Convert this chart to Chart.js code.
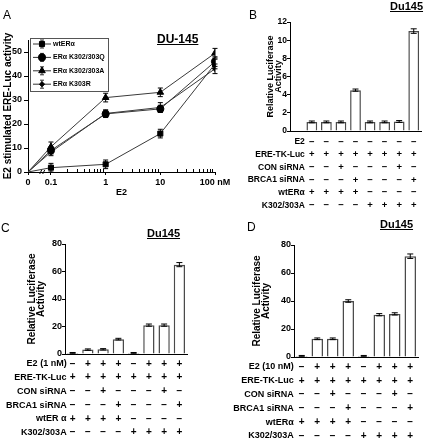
<!DOCTYPE html>
<html>
<head>
<meta charset="utf-8">
<title>ERα K302/303 mutants and BRCA1 siRNA in Du145 cells</title>
<script src="https://cdn.jsdelivr.net/npm/chart.js@4.4.1/dist/chart.umd.min.js"></script>
<style>
  body { margin: 0; background: #fff; }
  #figure { position: relative; width: 427px; height: 441px; overflow: hidden; background: #fff;
            font-family: "Liberation Sans", Arial, sans-serif; color: #000; }
  #figure canvas { position: absolute; }
  .letter { position: absolute; font-size: 12px; line-height: 12px; }
  .cell { position: absolute; font-weight: bold; text-decoration: underline; line-height: 1; }
</style>
</head>
<body>
<div id="figure">
  <canvas id="chartA" width="240" height="215" style="left:0;top:0"></canvas>
  <canvas id="chartB" width="214" height="215" style="left:213px;top:0"></canvas>
  <canvas id="chartC" width="213" height="226" style="left:0;top:215px"></canvas>
  <canvas id="chartD" width="214" height="226" style="left:213px;top:215px"></canvas>

  <div class="letter" style="left:3px;top:9px">A</div>
  <div class="cell" style="left:157px;top:33px;font-size:12px">DU-145</div>
  <div class="letter" style="left:249px;top:9px">B</div>
  <div class="cell" style="left:390px;top:1px;font-size:11px">Du145</div>
  <div class="letter" style="left:1px;top:222px">C</div>
  <div class="cell" style="left:147px;top:228px;font-size:11px">Du145</div>
  <div class="letter" style="left:247px;top:221px">D</div>
  <div class="cell" style="left:380px;top:219px;font-size:11px">Du145</div>
</div>

<script>
// ---------- panel A: dose response ----------
const doses = [0, 0.1, 1, 10, 100];
const doseLabels = ['0', '0.1', '1', '10', '100 nM'];
const seriesNames = ['wtERα', 'ERα K302/303Q', 'ERα K302/303A', 'ERα K303R'];
const wtER = [0, 1.8, 3.2, 16, 45];
const k302Q = [0, 9, 24.2, 26.3, 46];
const k302A = [0, 10.5, 31, 33.2, 49.5];
const k303R = [0, 8.3, 24.4, 26.9, 43];
const wtErrA = [0, 1.8, 1.8, 1.8, 2];
const qErrA = [0, 1.5, 1.5, 1.5, 2];
const aErrA = [0, 2, 1.8, 1.8, 2];
const rErrA = [0, 1.5, 1.5, 2, 2];
const yTicksA = [0, 10, 20, 30, 40, 50];

// ---------- panels B-D: luciferase bars ----------
const lanes = ['1', '2', '3', '4', '5', '6', '7', '8'];
const valuesB = [1, 1, 1, 4.5, 1, 1, 1.05, 11];
const errorsB = [0.1, 0.1, 0.1, 0.12, 0.1, 0.1, 0.1, 0.25];
const valuesC = [0.8, 3.2, 3.4, 10.8, 0.8, 21, 21, 65];
const errorsC = [0.3, 0.5, 0.5, 0.6, 0.3, 0.8, 0.8, 1.5];
const valuesD = [0.8, 13, 13, 40, 0.8, 30.2, 30.8, 72];
const errorsD = [0.3, 0.6, 0.6, 0.9, 0.3, 0.8, 0.8, 1.6];
const ticksB = [0, 2, 4, 6, 8, 10, 12];
const ticksCD = [0, 20, 40, 60, 80];

// treatment table (1 = +, 0 = −)
const e2None = [0, 0, 0, 0, 0, 0, 0, 0];
const e2Given = [0, 1, 1, 1, 0, 1, 1, 1];
const ereTkLuc = [1, 1, 1, 1, 1, 1, 1, 1];
const conSiRNA = [0, 0, 1, 0, 0, 0, 1, 0];
const brca1SiRNA = [0, 0, 0, 1, 0, 0, 0, 1];
const wtERalpha = [1, 1, 1, 1, 0, 0, 0, 0];
const k302A303A = [0, 0, 0, 0, 1, 1, 1, 1];

const FONT = '"Liberation Sans", Arial, sans-serif';
Chart.defaults.font.family = FONT;
Chart.defaults.font.weight = 'bold';
Chart.defaults.color = '#000';

// error bars drawn from dataset.errors
const errorBars = {
    id: 'errorBars',
    afterDatasetsDraw(chart) {
        const ctx = chart.ctx;
        const y = chart.scales.y;
        chart.data.datasets.forEach((ds, di) => {
            if (!ds.errors) return;
            const cap = ds.capHalf || 3;
            chart.getDatasetMeta(di).data.forEach((el, i) => {
                const raw = ds.data[i];
                const v = raw !== null && typeof raw === 'object' ? raw.y : raw;
                const e = ds.errors[i];
                if (v === null || v === undefined || !e) return;
                const top = y.getPixelForValue(v + e);
                const bot = y.getPixelForValue(v - e);
                ctx.save();
                ctx.strokeStyle = '#000';
                ctx.lineWidth = 1;
                ctx.beginPath();
                ctx.moveTo(el.x, top); ctx.lineTo(el.x, bot);
                ctx.moveTo(el.x - cap, top); ctx.lineTo(el.x + cap, top);
                ctx.moveTo(el.x - cap, bot); ctx.lineTo(el.x + cap, bot);
                ctx.stroke();
                ctx.restore();
            });
        });
    }
};

// ---------- panel A ----------
const ZERO_POS = -0.42; // the "0" dose sits left of the axis break
const toPos = d => (d === 0 ? ZERO_POS : Math.log10(d) + 1);

const seriesA = [
    [seriesNames[0], wtER, wtErrA, 'rect', 3.6],
    [seriesNames[1], k302Q, qErrA, 'circle', 3.6],
    [seriesNames[2], k302A, aErrA, 'triangle', 3.8],
    [seriesNames[3], k303R, rErrA, 'rectRot', 2.6]
];

const legendBox = {
    id: 'legendBox',
    afterDraw(chart) {
        const ctx = chart.ctx;
        const bx = 30, by = 38, bw = 78, bh = 53;
        ctx.save();
        ctx.strokeStyle = '#555';
        ctx.lineWidth = 1;
        ctx.strokeRect(bx + 0.5, by + 0.5, bw, bh);
        ctx.font = 'bold 7px ' + FONT;
        ctx.textBaseline = 'middle';
        ctx.fillStyle = '#000';
        chart.data.datasets.forEach((ds, i) => {
            const cy = by + 6 + i * 13.4;
            const cx = bx + 12;
            ctx.strokeStyle = '#333';
            ctx.beginPath();
            ctx.moveTo(bx + 3, cy); ctx.lineTo(bx + 21, cy);
            ctx.moveTo(cx, cy - 4); ctx.lineTo(cx, cy + 4);
            ctx.moveTo(cx - 2, cy - 4); ctx.lineTo(cx + 2, cy - 4);
            ctx.moveTo(cx - 2, cy + 4); ctx.lineTo(cx + 2, cy + 4);
            ctx.stroke();
            ctx.strokeStyle = '#000';
            Chart.helpers.drawPoint(ctx, { pointStyle: ds.pointStyle, radius: ds.legendRadius, rotation: 0, borderWidth: 1 }, cx, cy);
            ctx.fillText(ds.label, bx + 23, cy);
        });
        ctx.restore();
    }
};

const axisMarks = {
    id: 'axisMarks',
    afterDraw(chart) {
        const ctx = chart.ctx;
        const x = chart.scales.x;
        const y0 = chart.scales.y.getPixelForValue(0);
        ctx.save();
        ctx.strokeStyle = '#000';
        ctx.lineWidth = 1;
        ctx.beginPath();
        [0.1, 1, 10].forEach(dec => {
            for (let k = 2; k <= 9; k++) {
                const px = Math.round(x.getPixelForValue(toPos(k * dec))) + 0.5;
                ctx.moveTo(px, y0); ctx.lineTo(px, y0 - 3);
            }
        });
        // axis break "//"
        const bx = x.getPixelForValue(ZERO_POS * 0.36);
        ctx.moveTo(bx - 3, y0 + 2); ctx.lineTo(bx - 1, y0 - 2);
        ctx.moveTo(bx, y0 + 2); ctx.lineTo(bx + 2, y0 - 2);
        ctx.stroke();
        ctx.restore();
    }
};

new Chart(document.getElementById('chartA'), {
    type: 'scatter',
    data: {
        datasets: seriesA.map(([label, vals, errs, style, r]) => ({
            label: label,
            data: doses.map((d, i) => ({ x: toPos(d), y: vals[i] })),
            errors: errs,
            capHalf: 2.5,
            showLine: true,
            borderColor: '#3a3a3a',
            borderWidth: 1,
            backgroundColor: '#000',
            pointBackgroundColor: '#000',
            pointBorderColor: '#000',
            pointStyle: style,
            pointRadius: doses.map(d => (d === 0 ? 0 : r)),
            legendRadius: r,
            tension: 0
        }))
    },
    options: {
        responsive: false,
        animation: false,
        layout: { padding: { left: 0, top: 40, right: 25, bottom: 15 } },
        plugins: { legend: { display: false }, tooltip: { enabled: false } },
        scales: {
            x: {
                type: 'linear',
                min: ZERO_POS,
                max: 3,
                afterBuildTicks: s => { s.ticks = doses.map(d => ({ value: toPos(d) })); },
                ticks: { callback: (v, i) => doseLabels[i], font: { size: 9 }, padding: 2, autoSkip: false, maxRotation: 0 },
                grid: { drawOnChartArea: false, tickLength: 3, color: '#000' },
                border: { color: '#000' },
                title: { display: true, text: 'E2', font: { size: 9 }, padding: { top: 0, bottom: 2 } },
                afterFit: s => { s.height = 28; }
            },
            y: {
                min: 0,
                max: 55,
                afterBuildTicks: s => { s.ticks = yTicksA.map(v => ({ value: v })); },
                ticks: { font: { size: 9 }, padding: 2 },
                grid: { drawOnChartArea: false, tickLength: 4, color: '#000' },
                border: { color: '#000' },
                title: { display: true, text: 'E2 stimulated ERE-Luc activity', font: { size: 10, lineHeight: 1 }, padding: { top: 3, bottom: 0 } },
                afterFit: s => { s.width = 28; }
            }
        }
    },
    plugins: [errorBars, legendBox, axisMarks]
});

// ---------- bar panels ----------
function signTable(rows, offset, cfg) {
    return {
        id: 'signTable',
        afterDraw(chart) {
            const { ctx, chartArea } = chart;
            const x = chart.scales.x;
            const firstX = x.getPixelForValue(offset);
            ctx.save();
            ctx.fillStyle = '#000';
            ctx.textBaseline = 'middle';
            rows.forEach(([name, marks], r) => {
                const cy = chartArea.bottom + cfg.start + r * cfg.gap;
                ctx.font = 'bold ' + cfg.labelSize + 'px ' + FONT;
                ctx.textAlign = 'right';
                ctx.fillText(name, firstX - cfg.labelGap, cy);
                ctx.font = 'bold ' + cfg.signSize + 'px ' + FONT;
                ctx.textAlign = 'center';
                marks.forEach((m, i) => ctx.fillText(m ? '+' : '\u2212', x.getPixelForValue(i + offset), cy));
            });
            ctx.restore();
        }
    };
}

function barPanel(id, o) {
    const lead = o.spacer ? [null] : [];
    return new Chart(document.getElementById(id), {
        type: 'bar',
        data: {
            labels: (o.spacer ? [''] : []).concat(lanes),
            datasets: [{
                data: lead.concat(o.values),
                errors: lead.concat(o.errors),
                capHalf: 3,
                backgroundColor: '#fff',
                borderColor: '#4a4a4a',
                borderWidth: 1.5,
                barPercentage: 0.74,
                categoryPercentage: 1
            }]
        },
        options: {
            responsive: false,
            animation: false,
            layout: { padding: o.padding },
            plugins: { legend: { display: false }, tooltip: { enabled: false } },
            scales: {
                x: {
                    grid: { display: false },
                    ticks: { display: false },
                    border: { color: '#000' },
                    afterFit: s => { s.height = 0; }
                },
                y: {
                    min: 0,
                    max: o.max,
                    afterBuildTicks: s => { s.ticks = o.ticks.map(v => ({ value: v })); },
                    ticks: { font: { size: o.tickSize }, padding: 0 },
                    grid: { drawOnChartArea: false, tickLength: 3, color: '#000' },
                    border: { color: '#000' },
                    title: {
                        display: true,
                        text: ['Relative Luciferase', 'Activity'],
                        font: { size: o.titleSize, lineHeight: 0.85 },
                        padding: { top: 2, bottom: 0 }
                    },
                    afterFit: s => { s.width = o.yWidth; }
                }
            }
        },
        plugins: [errorBars, signTable(o.rows, o.spacer ? 1 : 0, o.table)]
    });
}

barPanel('chartB', {
    values: valuesB, errors: errorsB, max: 12, ticks: ticksB, spacer: true,
    padding: { left: 52, top: 22, right: 6, bottom: 84 }, yWidth: 25,
    tickSize: 8.5, titleSize: 9,
    rows: [['E2', e2None], ['ERE-TK-Luc', ereTkLuc], ['CON siRNA', conSiRNA],
           ['BRCA1 siRNA', brca1SiRNA], ['wtERα', wtERalpha], ['K302/303A', k302A303A]],
    table: { start: 11, gap: 12.7, labelSize: 8.5, signSize: 9.5, labelGap: 7 }
});

barPanel('chartC', {
    values: valuesC, errors: errorsC, max: 80, ticks: ticksCD, spacer: false,
    padding: { left: 26, top: 29, right: 26, bottom: 87 }, yWidth: 39,
    tickSize: 9, titleSize: 10,
    rows: [['E2 (1 nM)', e2Given], ['ERE-TK-Luc', ereTkLuc], ['CON siRNA', conSiRNA],
           ['BRCA1 siRNA', brca1SiRNA], ['wtER α', wtERalpha], ['K302/303A', k302A303A]],
    table: { start: 10, gap: 13.7, labelSize: 9, signSize: 10, labelGap: 6 }
});

barPanel('chartD', {
    values: valuesD, errors: errorsD, max: 80, ticks: ticksCD, spacer: false,
    padding: { left: 38, top: 30, right: 9, bottom: 84 }, yWidth: 43,
    tickSize: 9, titleSize: 10,
    rows: [['E2 (10 nM)', e2Given], ['ERE-TK-Luc', ereTkLuc], ['CON siRNA', conSiRNA],
           ['BRCA1 siRNA', brca1SiRNA], ['wtERα', wtERalpha], ['K302/303A', k302A303A]],
    table: { start: 10, gap: 13.8, labelSize: 9, signSize: 10, labelGap: 8 }
});
</script>
</body>
</html>
